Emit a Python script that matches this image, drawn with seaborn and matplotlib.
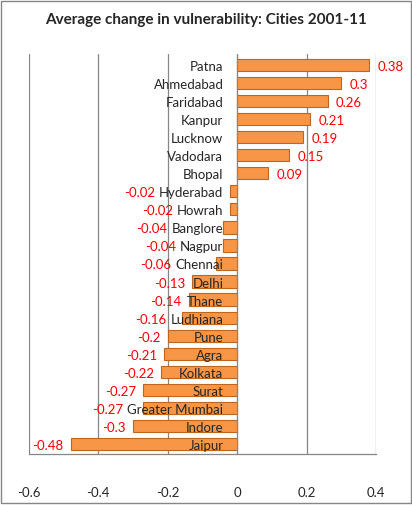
import matplotlib
matplotlib.use("Agg")
import matplotlib.pyplot as plt
import seaborn as sns
import pandas as pd
import numpy as np
from matplotlib.patches import Rectangle

cities = ["Patna", "Ahmedabad", "Faridabad", "Kanpur", "Lucknow", "Vadodara", "Bhopal",
          "Hyderabad", "Howrah", "Banglore", "Nagpur", "Chennai", "Delhi", "Thane",
          "Ludhiana", "Pune", "Agra", "Kolkata", "Surat", "Greater Mumbai", "Indore", "Jaipur"]
change = [0.38, 0.3, 0.26, 0.21, 0.19, 0.15, 0.09,
          -0.02, -0.02, -0.04, -0.04, -0.06, -0.13, -0.14,
          -0.16, -0.2, -0.21, -0.22, -0.27, -0.27, -0.3, -0.48]
xticks = [-0.6, -0.4, -0.2, 0, 0.2, 0.4]

df = pd.DataFrame({"city": cities, "change": change})

sns.set_style("white")
plt.rcParams['font.family'] = ['Lato', 'DejaVu Sans']

fig = plt.figure(figsize=(4.12, 5.06), dpi=100)
ax = fig.add_axes([0.07, 0.101, 0.843, 0.79])

sns.barplot(data=df, x="change", y="city", orient="h", color="#F79646",
            edgecolor="#C0651E", linewidth=0.8, width=0.68, saturation=1, ax=ax)
ax.set_axisbelow(False)

ax.set_xlim(-0.6, 0.4)
ax.set_ylim(len(cities) - 0.45, -0.6)
ax.set_xticks(xticks)
ax.set_xticklabels(["-0.6", "-0.4", "-0.2", "0", "0.2", "0.4"], fontsize=9.5)
ax.set_xlabel("")
ax.set_ylabel("")
ax.tick_params(axis="x", direction="out", length=4, width=0.8, color="#868686", pad=19)
ax.tick_params(axis="y", which="major", length=0, pad=10, labelsize=9.5)
ax.set_yticks(np.arange(len(cities) + 1) - 0.5, minor=True)
ax.tick_params(axis="y", which="minor", direction="out", length=3, width=0.8, color="#868686")
for t in ax.get_yticklabels():
    t.set_color("#111111")

# vertical gridlines
for v in xticks:
    ax.axvline(v, color="#868686", lw=0.9, zorder=0)

for s in ["top", "right"]:
    ax.spines[s].set_visible(False)
ax.spines["left"].set_position(("data", 0))
ax.spines["left"].set_color("#868686")
ax.spines["bottom"].set_color("#868686")
ax.spines["bottom"].set_linewidth(0.9)

fig.canvas.draw()
renderer = fig.canvas.get_renderer()
ylabels = ax.get_yticklabels()

# value labels (negative ones pushed left of the city name, like Excel)
for i, v in enumerate(change):
    if v >= 0:
        ax.annotate(f"{v:g}", (v, i), xytext=(8, -1), textcoords="offset pixels",
                    ha="left", va="center", color="#FF0000", fontsize=9.5)
    else:
        bar_left = ax.transData.transform((v, i))[0]
        name_left = ylabels[i].get_window_extent(renderer).x0
        right = min(bar_left - 7, name_left - 4)
        ax.annotate(f"{v:g}", (v, i), xytext=(right - bar_left, -1), textcoords="offset pixels",
                    ha="right", va="center", color="#FF0000", fontsize=9.5)

fig.text(0.5, 0.96, "Average change in vulnerability: Cities 2001-11",
         ha="center", va="center", fontsize=11, fontweight="bold")

fig.patches.append(Rectangle((0.003, 0.003), 0.994, 0.994, transform=fig.transFigure,
                             fill=False, edgecolor="#868686", lw=1))

fig.savefig("out.png", dpi=100)
